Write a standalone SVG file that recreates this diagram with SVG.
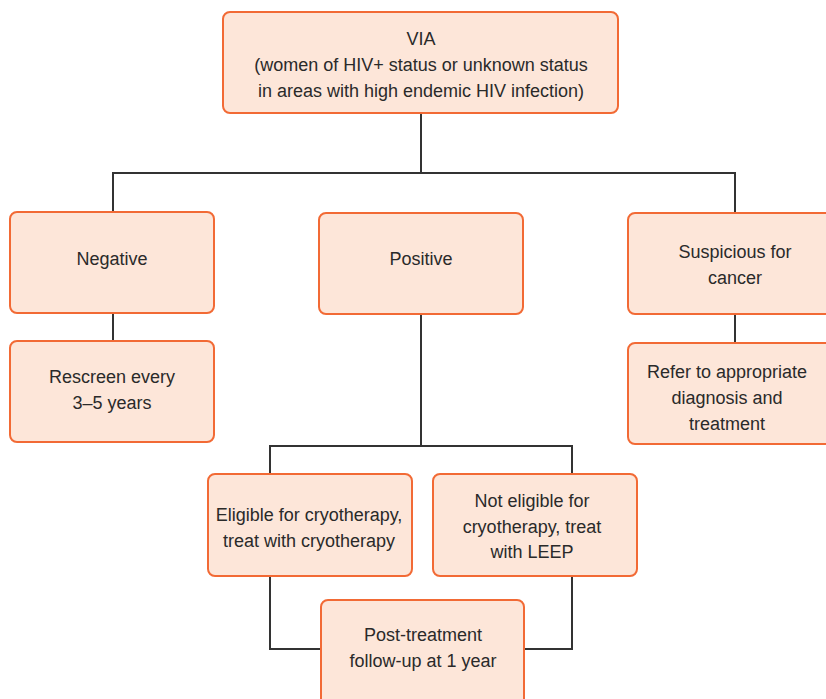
<svg xmlns="http://www.w3.org/2000/svg" width="826" height="699" viewBox="0 0 826 699">
<style>
.box{fill:#fde6d9;stroke:#f26a35;stroke-width:2}
.t{font-family:"Liberation Sans",Arial,sans-serif;font-size:18px;fill:#2a2a2a;text-anchor:middle}
.c{fill:none;stroke:#333;stroke-width:2}
</style>
<rect width="826" height="699" fill="#fff"/>
<g id="connectors">
<path class="c" d="M421 113V173M113 212V173H735V213"/>
<path class="c" d="M113 313V341"/>
<path class="c" d="M735 314V343"/>
<path class="c" d="M421 314V446M270 474V446H572V474"/>
<path class="c" d="M270 576V649H321M572 576V649H524"/>
</g>
<g id="via">
<rect class="box" x="223" y="12" width="395" height="101" rx="7"/>
<text class="t" x="421" y="45">VIA</text>
<text class="t" x="421" y="71">(women of HIV+ status or unknown status</text>
<text class="t" x="421" y="97">in areas with high endemic HIV infection)</text>
</g>
<g id="negative">
<rect class="box" x="10" y="212" width="204" height="101" rx="7"/>
<text class="t" x="112" y="265">Negative</text>
</g>
<g id="rescreen">
<rect class="box" x="10" y="341" width="204" height="101" rx="7"/>
<text class="t" x="112" y="383">Rescreen every</text>
<text class="t" x="112" y="409">3–5 years</text>
</g>
<g id="positive">
<rect class="box" x="319" y="213" width="204" height="101" rx="7"/>
<text class="t" x="421" y="265">Positive</text>
</g>
<g id="suspicious">
<rect class="box" x="628" y="213" width="214" height="101" rx="7"/>
<text class="t" x="735" y="258">Suspicious for</text>
<text class="t" x="735" y="284">cancer</text>
</g>
<g id="refer">
<rect class="box" x="628" y="343" width="214" height="101" rx="7"/>
<text class="t" x="727" y="378">Refer to appropriate</text>
<text class="t" x="727" y="404">diagnosis and</text>
<text class="t" x="727" y="430">treatment</text>
</g>
<g id="eligible">
<rect class="box" x="208" y="474" width="204" height="102" rx="7"/>
<text class="t" x="309" y="521">Eligible for cryotherapy,</text>
<text class="t" x="309" y="547">treat with cryotherapy</text>
</g>
<g id="noteligible">
<rect class="box" x="433" y="474" width="204" height="102" rx="7"/>
<text class="t" x="532" y="507">Not eligible for</text>
<text class="t" x="532" y="533">cryotherapy, treat</text>
<text class="t" x="532" y="558">with LEEP</text>
</g>
<g id="posttreatment">
<rect class="box" x="321" y="600" width="203" height="110" rx="7"/>
<text class="t" x="423" y="641">Post-treatment</text>
<text class="t" x="423" y="667">follow-up at 1 year</text>
</g>
</svg>
